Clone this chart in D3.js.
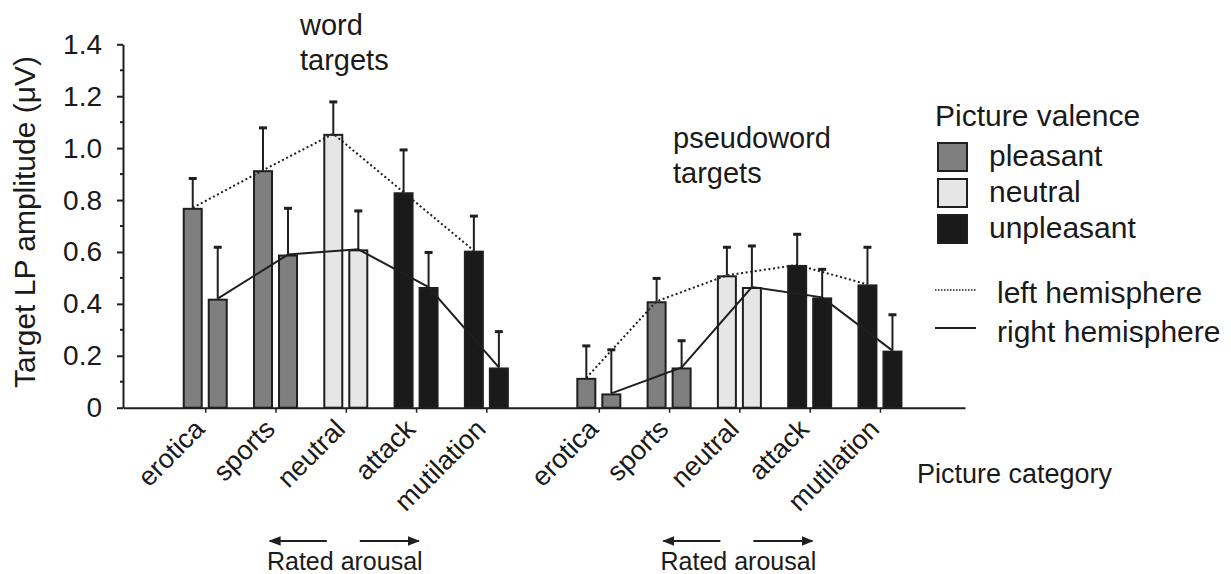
<!DOCTYPE html>
<html>
<head>
<meta charset="utf-8">
<script src="https://cdn.jsdelivr.net/npm/d3@7"></script>
<style>
  body { margin: 0; background: #fff; }
  svg { display: block; font-family: "Liberation Sans", Arial, sans-serif; }
  text { fill: #1a1a1a; }
</style>
</head>
<body>
<svg id="chart" width="1231" height="574"></svg>
<script>
// picture categories and their valence
const categories = ["erotica", "sports", "neutral", "attack", "mutilation"];
const valence = ["pleasant", "pleasant", "neutral", "unpleasant", "unpleasant"];
const groups = ["word", "pseudoword"];
const groupTitles = [["word", "targets"], ["pseudoword", "targets"]];

// mean LP amplitude (µV) and error (upper whisker length)
const wordLeft = [0.77, 0.915, 1.055, 0.83, 0.605];
const wordLeftErr = [0.115, 0.165, 0.125, 0.165, 0.135];
const wordRight = [0.42, 0.59, 0.61, 0.465, 0.155];
const wordRightErr = [0.20, 0.18, 0.15, 0.135, 0.14];
const pseudoLeft = [0.115, 0.41, 0.51, 0.55, 0.475];
const pseudoLeftErr = [0.125, 0.09, 0.11, 0.12, 0.145];
const pseudoRight = [0.055, 0.155, 0.465, 0.425, 0.22];
const pseudoRightErr = [0.17, 0.105, 0.16, 0.11, 0.14];

const yTicks = [0, 0.2, 0.4, 0.6, 0.8, 1.0, 1.2, 1.4];
const yMinorTicks = [0.1, 0.3, 0.5, 0.7, 0.9, 1.1, 1.3];
const groupOffset = [0, 5.6];

const valenceColor = { pleasant: "#7f7f7f", neutral: "#e6e6e6", unpleasant: "#1a1a1a" };
const ink = "#1f1f1f";

const svg = d3.select("#chart");

const x = d3.scaleLinear().domain([-1.17, 10.81]).range([123, 965]);
const y = d3.scaleLinear().domain([0, 1.4]).range([407.7, 44.3]);
const hemi = d3.scaleBand().domain(["left", "right"]).range([-22.5, 22.5]).paddingInner(0.2);

// build the bar table
let bars = [];
let seriesByGroup = [[wordLeft, wordLeftErr, wordRight, wordRightErr],
                     [pseudoLeft, pseudoLeftErr, pseudoRight, pseudoRightErr]];
groups.forEach((g, gi) => {
  let s = seriesByGroup[gi];
  categories.forEach((c, ci) => {
    let pos = groupOffset[gi] + ci;
    bars.push({ group: g, cat: c, pos: pos, side: "left", v: s[0][ci], e: s[1][ci], val: valence[ci] });
    bars.push({ group: g, cat: c, pos: pos, side: "right", v: s[2][ci], e: s[3][ci], val: valence[ci] });
  });
});
const cx = d => x(d.pos) + hemi(d.side) + hemi.bandwidth() / 2;

// y axis
let yAxis = d3.axisLeft(y).tickValues(yTicks).tickSize(6).tickSizeOuter(0).tickPadding(15)
  .tickFormat(d => d === 0 ? "0" : d3.format(".1f")(d));
let ya = svg.append("g").attr("transform", "translate(123,0)").call(yAxis);
ya.select(".domain").attr("stroke", ink).attr("stroke-width", 2);
ya.selectAll(".tick line").attr("stroke", ink).attr("stroke-width", 2);
ya.selectAll(".tick text").attr("font-size", 28).attr("font-family", "Liberation Sans, Arial, sans-serif").attr("fill", ink);
svg.append("g").selectAll("line").data(yMinorTicks).enter().append("line")
  .attr("x1", 120).attr("x2", 123).attr("y1", d => y(d)).attr("y2", d => y(d))
  .attr("stroke", ink).attr("stroke-width", 2);

// x axis
let tickPos = [];
groups.forEach((g, gi) => categories.forEach((c, ci) => tickPos.push(groupOffset[gi] + ci)));
let xAxis = d3.axisBottom(x).tickValues(tickPos).tickSize(5).tickSizeOuter(0).tickFormat("");
let xa = svg.append("g").attr("transform", "translate(0," + y(0) + ")").call(xAxis);
xa.select(".domain").attr("stroke", ink).attr("stroke-width", 2);
xa.selectAll(".tick line").attr("stroke", ink).attr("stroke-width", 1.5);

// rotated category labels
svg.append("g").selectAll("text").data(tickPos).enter().append("text")
  .attr("transform", (d) => "translate(" + (x(d) + 1) + "," + (y(0) + 23) + ") rotate(-45)")
  .attr("text-anchor", "end")
  .attr("font-size", 27)
  .text((d, i) => categories[i % categories.length]);

// bars
svg.append("g").selectAll("rect").data(bars).enter().append("rect")
  .attr("x", d => x(d.pos) + hemi(d.side) + 1)
  .attr("width", hemi.bandwidth() - 2)
  .attr("y", d => y(d.v) + 1)
  .attr("height", d => y(0) - y(d.v) - 1)
  .attr("fill", d => valenceColor[d.val])
  .attr("stroke", ink).attr("stroke-width", 2);

// error bars
let eb = svg.append("g").attr("stroke", ink).attr("stroke-width", 2);
eb.selectAll(".stem").data(bars).enter().append("line").attr("class", "stem")
  .attr("x1", cx).attr("x2", cx).attr("y1", d => y(d.v)).attr("y2", d => y(d.v + d.e));
eb.selectAll(".cap").data(bars).enter().append("line").attr("class", "cap")
  .attr("x1", d => cx(d) - 4).attr("x2", d => cx(d) + 4)
  .attr("y1", d => y(d.v + d.e) + 0.5).attr("y2", d => y(d.v + d.e) + 0.5)
  .attr("stroke-width", 3);

// hemisphere lines
let line = d3.line().x(cx).y(d => y(d.v));
groups.forEach(g => {
  ["left", "right"].forEach(side => {
    let pts = bars.filter(b => b.group === g && b.side === side);
    svg.append("path").datum(pts).attr("d", line)
      .attr("fill", "none").attr("stroke", ink).attr("stroke-width", 2)
      .attr("stroke-dasharray", side === "left" ? "2,2.6" : null);
  });
});

// group titles
const titlePos = [[300, 35], [673, 148]];
groupTitles.forEach((t, gi) => {
  let tx = svg.append("text").attr("x", titlePos[gi][0]).attr("y", titlePos[gi][1]).attr("font-size", 29);
  t.forEach((s, i) => tx.append("tspan").attr("x", titlePos[gi][0]).attr("dy", i === 0 ? 0 : 35).text(s));
});

// y label
svg.append("text").attr("transform", "translate(35,222) rotate(-90)")
  .attr("text-anchor", "middle").attr("font-size", 30)
  .text("Target LP amplitude (μV)");

// x label
svg.append("text").attr("x", 917).attr("y", 483).attr("font-size", 27).text("Picture category");

// rated arousal arrows
svg.append("defs").append("marker").attr("id", "head")
  .attr("viewBox", "0 0 10 10").attr("refX", 9).attr("refY", 5)
  .attr("markerWidth", 6).attr("markerHeight", 6).attr("markerUnits", "strokeWidth")
  .attr("orient", "auto")
  .append("path").attr("d", "M0,1 L10,5 L0,9 Z").attr("fill", ink);
groupOffset.forEach(off => {
  let nx = x(off + 2);
  svg.append("line").attr("x1", nx - 19).attr("x2", nx - 76).attr("y1", 541).attr("y2", 541)
    .attr("stroke", ink).attr("stroke-width", 2).attr("marker-end", "url(#head)");
  svg.append("line").attr("x1", nx + 14).attr("x2", nx + 73).attr("y1", 541).attr("y2", 541)
    .attr("stroke", ink).attr("stroke-width", 2).attr("marker-end", "url(#head)");
  svg.append("text").attr("x", nx - 1).attr("y", 570).attr("text-anchor", "middle")
    .attr("font-size", 25).text("Rated arousal");
});

// legend
const legendItems = ["pleasant", "neutral", "unpleasant"];
let lg = svg.append("g");
lg.append("text").attr("x", 935).attr("y", 126).attr("font-size", 30).text("Picture valence");
legendItems.forEach((k, i) => {
  lg.append("rect").attr("x", 938).attr("y", 143 + i * 36).attr("width", 29).attr("height", 28)
    .attr("fill", valenceColor[k]).attr("stroke", ink).attr("stroke-width", 2);
  lg.append("text").attr("x", 989).attr("y", 166 + i * 36).attr("font-size", 30).text(k);
});
const hemiLabels = ["left hemisphere", "right hemisphere"];
hemiLabels.forEach((k, i) => {
  lg.append("line").attr("x1", 935).attr("x2", 976).attr("y1", 290 + i * 38).attr("y2", 290 + i * 38)
    .attr("stroke", ink).attr("stroke-width", i === 0 ? 1.5 : 2)
    .attr("stroke-dasharray", i === 0 ? "1.5,1.5" : null);
  lg.append("text").attr("x", 997).attr("y", 303 + i * 39).attr("font-size", 30).text(k);
});
</script>
</body>
</html>
